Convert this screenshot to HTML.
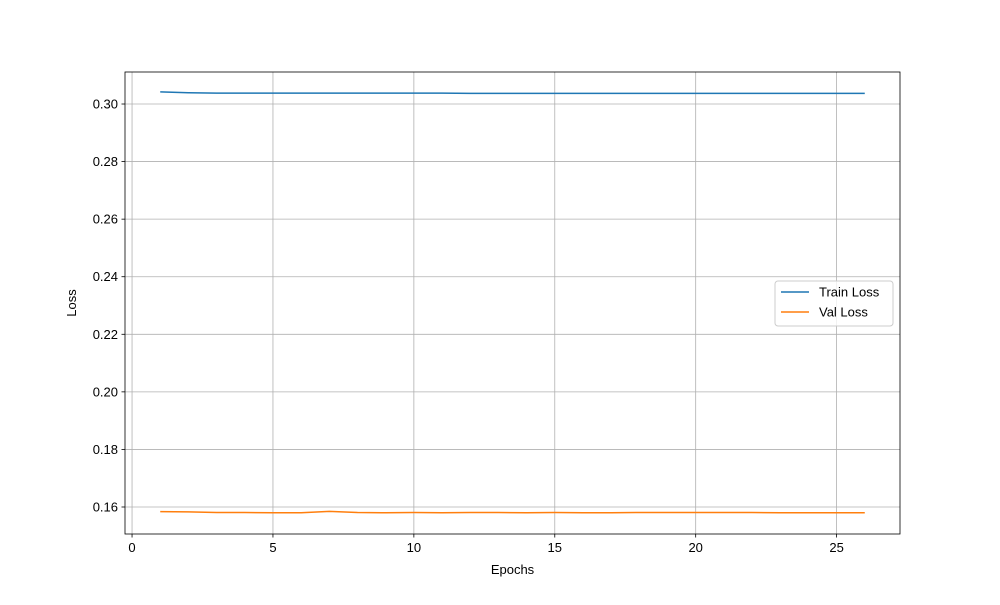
<!DOCTYPE html>
<html><head><meta charset="utf-8"><style>
body{margin:0;background:#fff;font-family:"Liberation Sans","DejaVu Sans",sans-serif}
svg text{font-family:"Liberation Sans","DejaVu Sans",sans-serif;font-size:13px;fill:#000}
</style></head><body>
<svg id="chart" width="1000" height="600"></svg>
<script>
const epochs=[1,2,3,4,5,6,7,8,9,10,11,12,13,14,15,16,17,18,19,20,21,22,23,24,25,26];
const trainLoss=[0.3042,0.3039,0.3038,0.3038,0.3038,0.3038,0.3038,0.3038,0.3038,0.3038,0.3038,0.3037,0.3037,0.3037,0.3037,0.3037,0.3037,0.3037,0.3037,0.3037,0.3037,0.3037,0.3037,0.3037,0.3037,0.3037];
const valLoss=[0.1584,0.1583,0.1581,0.1581,0.1580,0.1580,0.1585,0.1581,0.1580,0.1581,0.1580,0.1581,0.1581,0.1580,0.1581,0.1580,0.1580,0.1581,0.1581,0.1581,0.1581,0.1581,0.1580,0.1580,0.1580,0.1580];
const xTicks=[0,5,10,15,20,25];
const yTicks=[0.16,0.18,0.20,0.22,0.24,0.26,0.28,0.30];
const L=125,R=900,T=72,B=534;
const xMin=-0.25,xMax=27.25,yMin=0.15062,yMax=0.31112;
const sx=v=>L+(v-xMin)/(xMax-xMin)*(R-L);
const sy=v=>B-(v-yMin)/(yMax-yMin)*(B-T);
const svg=document.getElementById('chart');
const NS='http://www.w3.org/2000/svg';
function mk(t,a,p){const e=document.createElementNS(NS,t);for(const k in a)e.setAttribute(k,a[k]);(p||svg).appendChild(e);return e;}
const grid=mk('g',{});


xTicks.forEach(v=>{const x=sx(v);
mk('line',{x1:x,x2:x,y1:T,y2:B,stroke:'#b0b0b0','stroke-width':0.8},grid);
mk('line',{x1:x,x2:x,y1:B,y2:B+3.5,stroke:'#000','stroke-width':0.8});
const t=mk('text',{x:x,y:B+18,'text-anchor':'middle'});t.textContent=v;

});
yTicks.forEach(v=>{const y=sy(v);
mk('line',{x1:L,x2:R,y1:y,y2:y,stroke:'#b0b0b0','stroke-width':0.8},grid);
mk('line',{x1:L-3.5,x2:L,y1:y,y2:y,stroke:'#000','stroke-width':0.8});
const t=mk('text',{x:L-7,y:y+4.5,'text-anchor':'end'});t.textContent=v.toFixed(2);

});
function line(data,color,name){const p=mk('polyline',{points:data.map((v,i)=>sx(epochs[i])+','+sy(v)).join(' '),fill:'none',stroke:color,'stroke-width':1.5});

}
line(trainLoss,'#1f77b4','train-loss-line');
line(valLoss,'#ff7f0e','val-loss-line');
const frame=mk('rect',{x:L,y:T,width:R-L,height:B-T,fill:'none',stroke:'#000','stroke-width':0.8});


const xl=mk('text',{x:(L+R)/2,y:574,'text-anchor':'middle'});xl.textContent='Epochs';


const yl=mk('text',{x:76,y:303,'text-anchor':'middle',transform:'rotate(-90 76 303)'});yl.textContent='Loss';


const lg=mk('g',{});


mk('rect',{x:775,y:281,width:118,height:45,rx:3,fill:'#fff','fill-opacity':0.8,stroke:'#ccc'},lg);
[['Train Loss','#1f77b4',292],['Val Loss','#ff7f0e',312]].forEach(([n,c,y])=>{
mk('line',{x1:781,x2:809,y1:y,y2:y,stroke:c,'stroke-width':1.5},lg);
const t=mk('text',{x:819,y:y+4.5},lg);t.textContent=n;

});
</script>
</body></html>
